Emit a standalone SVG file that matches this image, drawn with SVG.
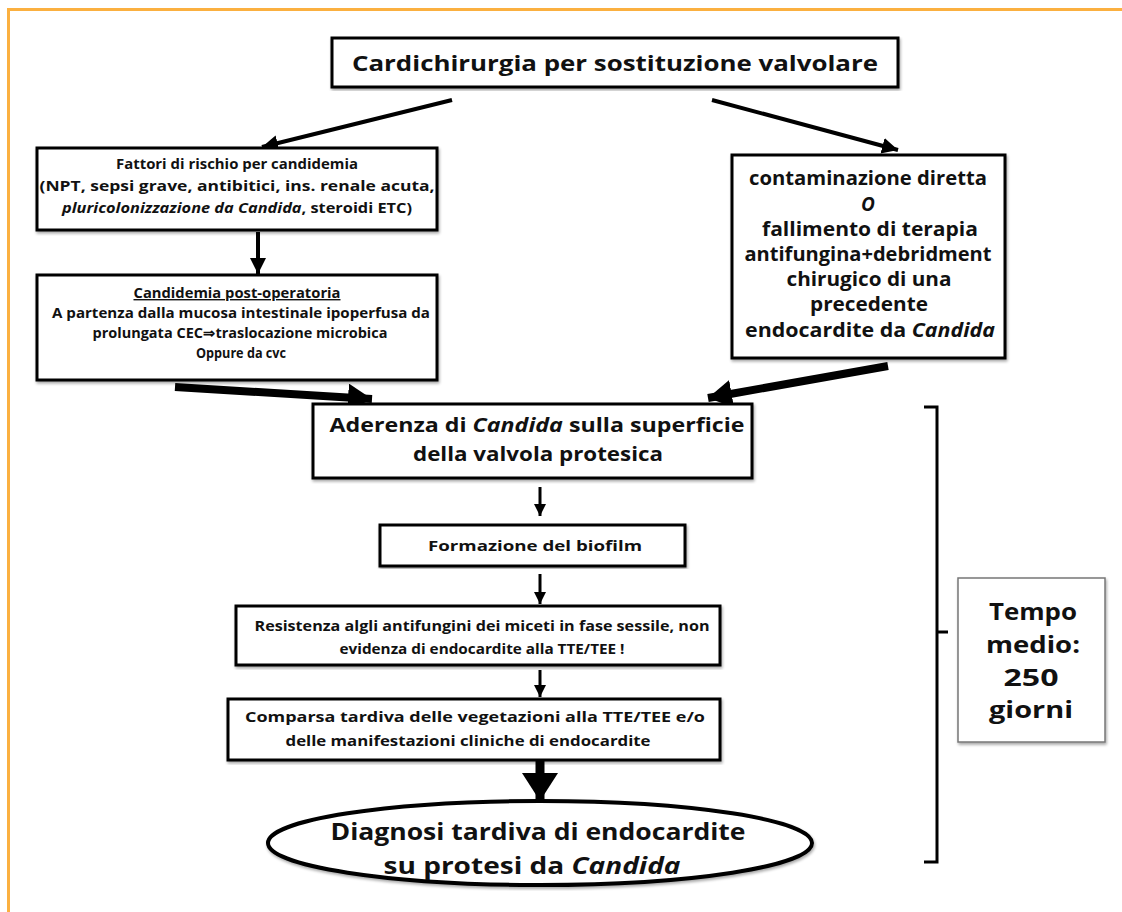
<svg xmlns="http://www.w3.org/2000/svg" width="1122" height="912" viewBox="0 0 1122 912">
<defs>
<marker id="ah" markerUnits="userSpaceOnUse" markerWidth="20" markerHeight="20" refX="16" refY="8" orient="auto"><path d="M0,0 L16,8 L0,16 Z" fill="#000"/></marker>
<marker id="ahs" markerUnits="userSpaceOnUse" markerWidth="16" markerHeight="16" refX="12" refY="6" orient="auto"><path d="M0,0 L12,6 L0,12 Z" fill="#000"/></marker>
<marker id="ahb" markerUnits="userSpaceOnUse" markerWidth="30" markerHeight="32" refX="24" refY="14" orient="auto"><path d="M0,0 L24,14 L0,28 Z" fill="#000"/></marker>
<marker id="ahx" markerUnits="userSpaceOnUse" markerWidth="34" markerHeight="40" refX="28" refY="18" orient="auto"><path d="M0,0 L28,18 L0,36 Z" fill="#000"/></marker>
<filter id="sh" x="-5%" y="-5%" width="112%" height="112%"><feGaussianBlur in="SourceAlpha" stdDeviation="1.5"/><feOffset dx="1" dy="2"/><feComponentTransfer><feFuncA type="linear" slope="0.35"/></feComponentTransfer><feMerge><feMergeNode/><feMergeNode in="SourceGraphic"/></feMerge></filter>
</defs>
<style>
.box{fill:#fff;stroke:#000;stroke-width:3}
.t{font-family:"Open Sans","Liberation Sans",sans-serif;font-weight:700;fill:#111;text-anchor:middle}
.i{font-style:italic}
.c{stroke:#000;fill:none}
</style>
<rect x="0" y="0" width="1122" height="912" fill="#fff"/>
<path d="M8.5,912 V9.5 H1122" fill="none" stroke="#fbb040" stroke-width="3"/>

<g id="connectors">
<line class="c" x1="452" y1="100" x2="262" y2="147" stroke-width="4" marker-end="url(#ah)"/>
<line class="c" x1="712" y1="100" x2="898" y2="150" stroke-width="4" marker-end="url(#ah)"/>
<line class="c" x1="258" y1="232" x2="258" y2="274" stroke-width="4" marker-end="url(#ah)"/>
<line class="c" x1="175" y1="387" x2="372" y2="399" stroke-width="8" marker-end="url(#ahb)"/>
<line class="c" x1="888" y1="366" x2="708" y2="398" stroke-width="8" marker-end="url(#ahb)"/>
<line class="c" x1="540" y1="487" x2="540" y2="516" stroke-width="3" marker-end="url(#ahs)"/>
<line class="c" x1="540" y1="574" x2="540" y2="604" stroke-width="3" marker-end="url(#ahs)"/>
<line class="c" x1="540" y1="670" x2="540" y2="697" stroke-width="3" marker-end="url(#ahs)"/>
<line class="c" x1="540" y1="760" x2="540" y2="801" stroke-width="9" marker-end="url(#ahx)"/>
</g>

<g id="n-top">
<rect class="box" x="332" y="38" width="566" height="49" filter="url(#sh)"/>
<text class="t" x="615" y="71" font-size="22" textLength="526" lengthAdjust="spacingAndGlyphs">Cardichirurgia per sostituzione valvolare</text>
</g>

<g id="n-fattori">
<rect class="box" x="37" y="148" width="400" height="82" filter="url(#sh)"/>
<text class="t" x="237" y="169" font-size="14" textLength="242" lengthAdjust="spacingAndGlyphs">Fattori di rischio per candidemia</text>
<text class="t" x="237" y="191" font-size="14" textLength="395" lengthAdjust="spacingAndGlyphs">(NPT, sepsi grave, antibitici, ins. renale acuta,</text>
<text class="t" x="237" y="213" font-size="14" textLength="350" lengthAdjust="spacingAndGlyphs"><tspan class="i">pluricolonizzazione da Candida</tspan>, steroidi  ETC)</text>
</g>

<g id="n-candidemia">
<rect class="box" x="37" y="275" width="400" height="105" filter="url(#sh)"/>
<text class="t" x="237" y="298" font-size="14" textLength="207" lengthAdjust="spacingAndGlyphs" text-decoration="underline">Candidemia post-operatoria</text>
<text class="t" x="241" y="318" font-size="14" textLength="378" lengthAdjust="spacingAndGlyphs">A partenza dalla mucosa intestinale ipoperfusa da</text>
<text class="t" x="240" y="338" font-size="14" textLength="295" lengthAdjust="spacingAndGlyphs">prolungata CEC⇒traslocazione microbica</text>
<text class="t" x="241" y="358" font-size="14" textLength="90" lengthAdjust="spacingAndGlyphs">Oppure da cvc</text>
</g>

<g id="n-contaminazione">
<rect class="box" x="732" y="155" width="273" height="203" filter="url(#sh)"/>
<text class="t" x="868" y="185" font-size="19" textLength="238" lengthAdjust="spacingAndGlyphs">contaminazione diretta</text>
<text class="t i" x="868" y="211" font-size="19">O</text>
<text class="t" x="870" y="236" font-size="19" textLength="216" lengthAdjust="spacingAndGlyphs">fallimento di terapia</text>
<text class="t" x="868" y="261" font-size="19" textLength="247" lengthAdjust="spacingAndGlyphs">antifungina+debridment</text>
<text class="t" x="869" y="286" font-size="19" textLength="165" lengthAdjust="spacingAndGlyphs">chirugico di una</text>
<text class="t" x="869" y="311" font-size="19" textLength="118" lengthAdjust="spacingAndGlyphs">precedente</text>
<text class="t" x="870" y="337" font-size="19" textLength="250" lengthAdjust="spacingAndGlyphs">endocardite da <tspan class="i">Candida</tspan></text>
</g>

<g id="n-aderenza">
<rect class="box" x="313" y="404" width="439" height="74" filter="url(#sh)"/>
<text class="t" x="537" y="432" font-size="20" textLength="415" lengthAdjust="spacingAndGlyphs">Aderenza di <tspan class="i">Candida</tspan> sulla superficie</text>
<text class="t" x="538" y="461" font-size="20" textLength="250" lengthAdjust="spacingAndGlyphs">della valvola protesica</text>
</g>

<g id="n-biofilm">
<rect class="box" x="380" y="525" width="305" height="41" filter="url(#sh)"/>
<text class="t" x="535" y="551" font-size="14" textLength="214" lengthAdjust="spacingAndGlyphs">Formazione del biofilm</text>
</g>

<g id="n-resistenza">
<rect class="box" x="236" y="606" width="484" height="59" filter="url(#sh)"/>
<text class="t" x="482" y="631" font-size="15" textLength="455" lengthAdjust="spacingAndGlyphs">Resistenza algli antifungini dei miceti in fase sessile, non</text>
<text class="t" x="482" y="654" font-size="15" textLength="285" lengthAdjust="spacingAndGlyphs">evidenza  di endocardite alla TTE/TEE !</text>
</g>

<g id="n-comparsa">
<rect class="box" x="228" y="699" width="492" height="61" filter="url(#sh)"/>
<text class="t" x="475" y="722" font-size="15" textLength="460" lengthAdjust="spacingAndGlyphs">Comparsa tardiva delle vegetazioni alla TTE/TEE e/o</text>
<text class="t" x="468" y="746" font-size="15" textLength="365" lengthAdjust="spacingAndGlyphs">delle manifestazioni cliniche di endocardite</text>
</g>

<g id="n-diagnosi">
<ellipse cx="540" cy="843" rx="272" ry="42" fill="#fff" stroke="#000" stroke-width="4" filter="url(#sh)"/>
<text class="t" x="538" y="840" font-size="24" textLength="415" lengthAdjust="spacingAndGlyphs">Diagnosi tardiva di endocardite</text>
<text class="t" x="532" y="874" font-size="24" textLength="297" lengthAdjust="spacingAndGlyphs">su protesi da <tspan class="i">Candida</tspan></text>
</g>

<g id="bracket">
<path d="M924,407 H937 V862 H924 M937,632 H948" fill="none" stroke="#000" stroke-width="3"/>
</g>

<g id="n-tempo">
<rect x="958" y="578" width="147" height="164" fill="#fff" stroke="#777" stroke-width="1.5" filter="url(#sh)"/>
<text class="t" x="1033" y="620" font-size="24" textLength="88" lengthAdjust="spacingAndGlyphs">Tempo</text>
<text class="t" x="1033" y="653" font-size="24" textLength="94" lengthAdjust="spacingAndGlyphs">medio:</text>
<text class="t" x="1031" y="686" font-size="24" textLength="55" lengthAdjust="spacingAndGlyphs">250</text>
<text class="t" x="1031" y="718" font-size="24" textLength="84" lengthAdjust="spacingAndGlyphs">giorni</text>
</g>
</svg>
